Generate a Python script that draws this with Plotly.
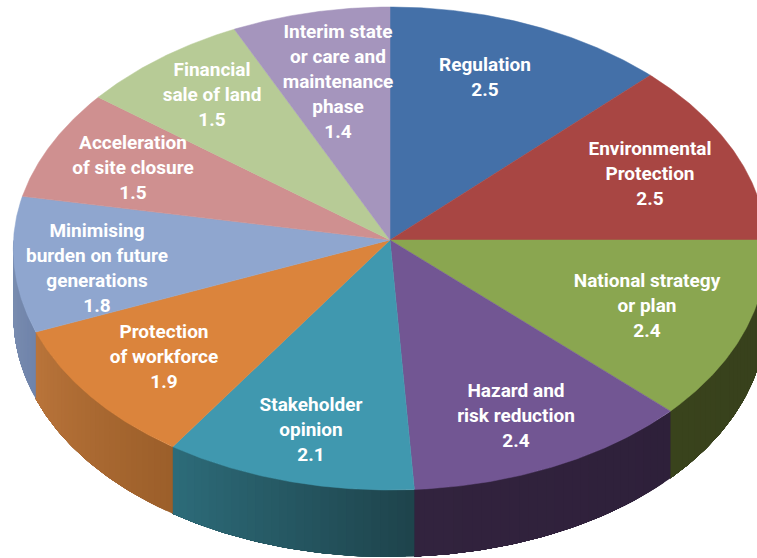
import numpy as np
import plotly.graph_objects as go

names = ["Regulation", "Environmental Protection", "National strategy or plan",
         "Hazard and risk reduction", "Stakeholder opinion", "Protection of workforce",
         "Minimising burden on future generations", "Acceleration of site closure",
         "Financial sale of land", "Interim state or care and maintenance phase"]
values = [2.5, 2.5, 2.4, 2.4, 2.1, 1.9, 1.8, 1.5, 1.5, 1.4]
label_lines = [["Regulation"], ["Environmental", "Protection"], ["National strategy", "or plan"],
               ["Hazard and", "risk reduction"], ["Stakeholder", "opinion"], ["Protection", "of workforce"],
               ["Minimising", "burden on future", "generations"], ["Acceleration", "of site closure"],
               ["Financial", "sale of land"], ["Interim state", "or care and", "maintenance", "phase"]]
label_x = [485, 650, 647, 516, 311, 164, 97, 133, 212, 338]
label_y = [79, 175.5, 307.5, 417.5, 431.5, 358.5, 269.5, 169.5, 96.5, 83]
top_colors = ["#4470A8", "#A84643", "#8AA650", "#725693", "#4098AF",
              "#DB843C", "#8FA6CF", "#CF9090", "#B7CB96", "#A595BD"]
wall_start = [None, None, (55, 63, 28), (46, 32, 58), (30, 68, 76),
              (156, 95, 42), (112, 132, 170), None, None, None]
wall_end = [None, None, (57, 67, 28), (50, 35, 62), (45, 107, 121),
            (185, 116, 58), (125, 144, 179), None, None, None]

CX, CY, RX, RX_TILT, RY_BACK, RY_FRONT, DEPTH = 390, 240, 376.5, 12, 233, 250, 67
LINE_STEP = 25


def rim(theta):
    theta = np.asarray(theta, dtype=float)
    c, s = np.cos(theta), np.sin(theta)
    return CX + (RX - RX_TILT * c) * s, CY - np.where(c > 0, RY_BACK, RY_FRONT) * c


total = sum(values)
edges = np.concatenate([[0], np.cumsum(values)]) / total * 2 * np.pi
fig = go.Figure()

# Side walls: overlapping shaded bands, each reaching to the end of its slice
for i in range(len(values)):
    if wall_start[i] is None:
        continue
    a = max(edges[i], np.pi / 2)
    b = min(edges[i + 1], 3 * np.pi / 2)
    n = 30
    t = np.linspace(a, b, n + 1)
    for k in range(n):
        f = k / (n - 1)
        col = tuple(int(round(p + (q - p) * f)) for p, q in zip(wall_start[i], wall_end[i]))
        rgb = "rgb(%d,%d,%d)" % col
        xs, ys = rim(np.linspace(t[k], b, 60))
        fig.add_trace(go.Scatter(
            x=np.concatenate([xs, xs[::-1], xs[:1]]),
            y=np.concatenate([ys, ys[::-1] + DEPTH, ys[:1]]),
            mode="lines", fill="toself", fillcolor=rgb,
            line=dict(width=0), hoverinfo="skip", showlegend=False))

# Top face slices
for i, name in enumerate(names):
    t = np.linspace(edges[i], edges[i + 1], 120)
    xs, ys = rim(t)
    fig.add_trace(go.Scatter(
        x=np.concatenate([[CX], xs, [CX]]),
        y=np.concatenate([[CY], ys, [CY]]),
        mode="lines", fill="toself", fillcolor=top_colors[i],
        line=dict(color=top_colors[i], width=0.5),
        name=name, hoverinfo="name", showlegend=False))

# Labels, one text point per line so the line pitch can be kept
tx, ty, tt = [], [], []
for lines, v, x, y in zip(label_lines, values, label_x, label_y):
    rows = lines + [str(v)]
    for k, row in enumerate(rows):
        tx.append(x)
        ty.append(y + (k - (len(rows) - 1) / 2) * LINE_STEP)
        tt.append(row)
fig.add_trace(go.Scatter(
    x=tx, y=ty, mode="text", text=tt, textposition="middle center",
    textfont=dict(family="Roboto, Liberation Sans", size=19, color="#FFFFFF", weight="bold"),
    hoverinfo="skip", showlegend=False))

fig.update_layout(
    width=757, height=558, margin=dict(l=0, r=0, t=0, b=0),
    paper_bgcolor="white", plot_bgcolor="white", showlegend=False,
    xaxis=dict(range=[0, 757], visible=False, fixedrange=True),
    yaxis=dict(range=[558, 0], visible=False, fixedrange=True),
)
fig.write_html("out.html", config=dict(displayModeBar=False),
               post_script="document.body.style.margin='0';document.documentElement.style.overflow='hidden';")
